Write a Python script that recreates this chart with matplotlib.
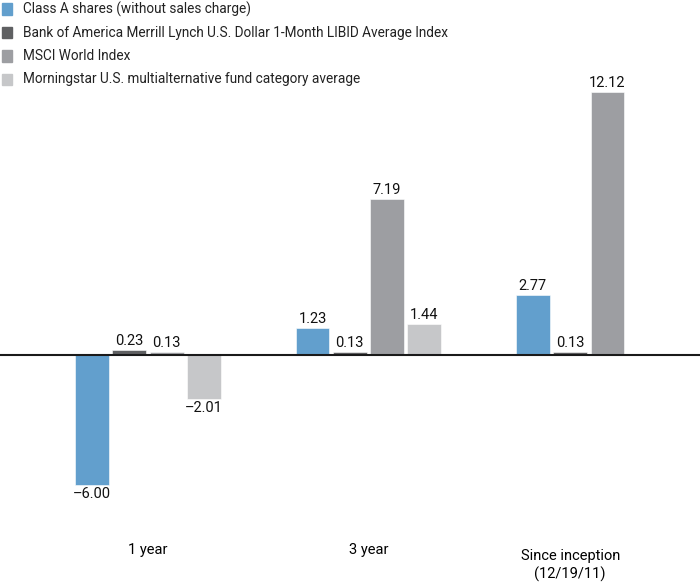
import matplotlib
matplotlib.use("Agg")
import matplotlib.pyplot as plt
import numpy as np

plt.rcParams['font.family'] = ['Roboto', 'DejaVu Sans']

categories = ['1 year', '3 year', 'Since inception\n(12/19/11)']
series_names = ['Class A shares (without sales charge)',
                'Bank of America Merrill Lynch U.S. Dollar 1-Month LIBID Average Index',
                'MSCI World Index',
                'Morningstar U.S. multialternative fund category average']
class_a = [-6.00, 1.23, 2.77]
bofa = [0.23, 0.13, 0.13]
msci = [0.13, 7.19, 12.12]
morningstar = [-2.01, 1.44, np.nan]
colors = ['#629fcd', '#5f6062', '#9d9ea2', '#c6c7c9']

series = [class_a, bofa, msci, morningstar]

fig = plt.figure(figsize=(7, 5.85), dpi=100)
ax = fig.add_axes([0, 0, 1, 1])

group_step = 5.91
width = 0.91
for k, (vals, col) in enumerate(zip(series, colors)):
    xs = []
    vs = []
    for i, v in enumerate(vals):
        if np.isnan(v):
            continue
        xs.append(i * group_step + k - 1.5)
        vs.append(v)
    bars = ax.bar(xs, vs, width=width, color=col, edgecolor='white', linewidth=0.4, zorder=2)
    labels = [('%.2f' % v).replace('-', '\u2013') for v in vs]
    ax.bar_label(bars, labels=labels, padding=1.5, fontsize=10.5, color='#111111')

ax.axhline(0, color='#1a1a1a', lw=1.5, zorder=3)

# category labels, centred under the bars that are present
for i, cat in enumerate(categories):
    present = [k for k in range(4) if not np.isnan(series[k][i])]
    cx = i * group_step + np.mean(present) - 1.5
    if '\n' in cat:
        ax.text(cx, -9.7, cat, ha='center', va='center', fontsize=10.5, linespacing=1.3)
    else:
        ax.text(cx, -9.0, cat, ha='center', va='center', fontsize=10.5)

ax.set_xlim(-3.97, 14.8)
ax.set_ylim(-10.6, 16.36)
ax.axis('off')

# legend drawn by hand at the top left
for j, (name, col) in enumerate(zip(series_names, colors)):
    y = 1 - (9 + j * 23.5) / 585
    fig.patches.append(plt.Rectangle((2 / 700, y - 5.5 / 585), 10 / 700, 11 / 585,
                                     transform=fig.transFigure, color=col))
    fig.text(23 / 700, y, name, ha='left', va='center', fontsize=9.8, color='#222222')

fig.savefig('out.png', dpi=100)
